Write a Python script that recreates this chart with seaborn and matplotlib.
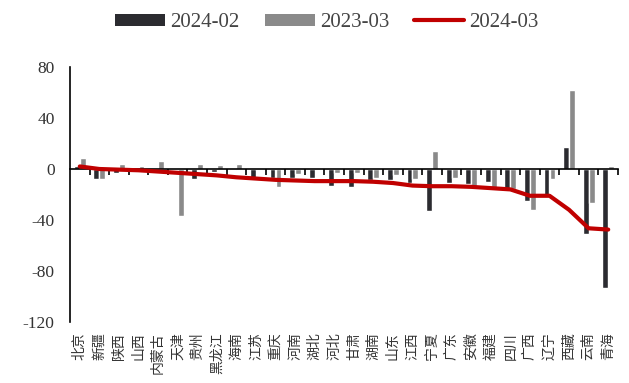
import numpy as np
import pandas as pd
import matplotlib
matplotlib.use("Agg")
import matplotlib.pyplot as plt
from matplotlib.patches import Patch
from matplotlib.lines import Line2D
import matplotlib.transforms as mtransforms
import seaborn as sns

# Province names, ordered by the 2024-03 value
provinces = ["北京", "新疆", "陕西", "山西", "内蒙古", "天津", "贵州", "黑龙江", "海南", "江苏",
             "重庆", "河南", "湖北", "河北", "甘肃", "湖南", "山东", "江西", "宁夏", "广东",
             "安徽", "福建", "四川", "广西", "辽宁", "西藏", "云南", "青海"]

# Values for each period
v_2024_02 = [2, -8, -3, -1, -1, -1, -8, -2, -1, -7,
             -7, -7, -7, -13, -14, -9, -9, -11, -33, -11,
             -12, -10, -16, -25, -20, 17, -51, -93]
v_2023_03 = [9, -8, 4, 2, 6, -37, 4, 3, 4, -1,
             -14, -4, 1, -3, -3, -7, -5, -8, 14, -7,
             -13, -15, -16, -32, -8, 62, -27, 2]
v_2024_03 = [2, 0, -0.5, -1, -2, -3, -4, -5, -6.5, -7.5,
             -8.5, -9, -9.5, -9.5, -9.5, -10, -11, -13, -13.5, -13.5,
             -14, -15, -16, -21, -21, -32, -46.5, -47.5]

series_bar = ["2024-02", "2023-03"]
series_line = "2024-03"
yticks = [80, 40, 0, -40, -80, -120]

c_dark = "#2b2b30"
c_gray = "#8a8a8a"
c_red = "#c00000"

df = pd.DataFrame({
    "province": provinces * 2,
    "value": v_2024_02 + v_2023_03,
    "period": [series_bar[0]] * len(provinces) + [series_bar[1]] * len(provinces),
})

sns.set_theme(style="white")
plt.rcParams["font.family"] = ["Liberation Serif", "Noto Sans CJK SC"]

fig = plt.figure(figsize=(6.29, 3.83), dpi=100)
ax = fig.add_axes([70 / 629, 61 / 383, 548 / 629, 255 / 383])

sns.barplot(data=df, x="province", y="value", hue="period", order=provinces,
            hue_order=series_bar, palette=[c_dark, c_gray], width=0.6,
            saturation=1, legend=False, ax=ax)
sns.lineplot(x=np.arange(len(provinces)), y=v_2024_03, color=c_red,
             linewidth=3.0, ax=ax, zorder=5)

ax.set_xlim(-0.5, len(provinces) - 0.5)
ax.set_ylim(-120, 80)
ax.set_yticks(yticks)
ax.set_yticklabels([str(t) for t in yticks])
ax.set_xlabel("")
ax.set_ylabel("")

for s in ["top", "right"]:
    ax.spines[s].set_visible(False)
ax.spines["left"].set_color("black")
ax.spines["left"].set_linewidth(1.2)
ax.spines["bottom"].set_position(("data", 0))
ax.spines["bottom"].set_color("black")
ax.spines["bottom"].set_linewidth(1.2)

ax.tick_params(axis="y", direction="out", length=5, width=1.2, color="black",
               pad=6, labelsize=12.5, labelcolor="#333333")
ax.set_xticks(np.arange(len(provinces)) + 0.5)
ax.set_xticklabels([])
ax.tick_params(axis="x", direction="out", length=4, width=1.2, color="black", bottom=True)

trans = mtransforms.blended_transform_factory(ax.transData, ax.transAxes)
for i, name in enumerate(provinces):
    ax.text(i, -0.04, name, transform=trans, rotation=90, ha="center", va="top",
            fontsize=10, color="#333333", family=["Noto Sans CJK SC"])

handles = [Patch(facecolor=c_dark, edgecolor="none"),
           Patch(facecolor=c_gray, edgecolor="none"),
           Line2D([0], [0], color=c_red, linewidth=3.0)]
fig.legend(handles, series_bar + [series_line], loc="upper center",
           bbox_to_anchor=(0.52, 1.015), ncol=3, frameon=False, fontsize=15,
           handlelength=2.4, handleheight=0.5, columnspacing=1.2,
           handletextpad=0.25, labelcolor="#444444")

fig.savefig("out.png", dpi=100)
